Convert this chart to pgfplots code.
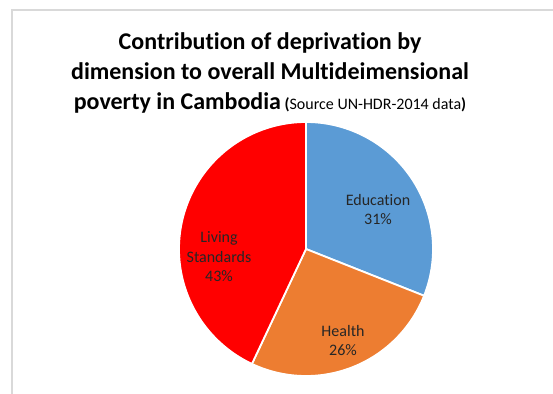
\documentclass[border=0pt]{standalone}
\usepackage{pgfplots}
\pgfplotsset{compat=1.18}
\usepackage{fontspec}
\setmainfont{Carlito}[Ligatures={NoCommon}]
\definecolor{edu}{HTML}{5B9BD5}
\definecolor{hea}{HTML}{ED7D31}
\definecolor{liv}{HTML}{FF0000}
\definecolor{frame}{HTML}{D9D9D9}
\definecolor{lab}{HTML}{262626}
% values (percent)
\def\vEdu{31}
\def\vHea{26}
\def\vLiv{43}
\def\cx{306}
\def\cy{145}
\def\rr{127}
\begin{document}
\begin{tikzpicture}
\useasboundingbox (0,0) rectangle (553bp,394bp);
\begin{axis}[
  at={(0,0)}, anchor=south west,
  scale only axis, width=553bp, height=394bp,
  xmin=0, xmax=553, ymin=0, ymax=394,
  axis lines=none, clip=false,
]
% frame
\draw[frame, line width=1.5bp] (axis cs:12,0) -- (axis cs:12,384) -- (axis cs:560,384);
% slices
\pgfmathsetmacro{\aA}{90}
\pgfmathsetmacro{\aB}{90-3.6*\vEdu}
\pgfmathsetmacro{\aC}{\aB-3.6*\vHea}
\pgfmathsetmacro{\aD}{\aC-3.6*\vLiv}
\addplot[fill=edu, draw=white, line width=1.8bp, domain=\aB:\aA, samples=80, line join=round]
  ({\cx+\rr*cos(x)},{\cy+\rr*sin(x)}) -- (axis cs:\cx,\cy) -- cycle;
\addplot[fill=hea, draw=white, line width=1.8bp, domain=\aC:\aB, samples=80, line join=round]
  ({\cx+\rr*cos(x)},{\cy+\rr*sin(x)}) -- (axis cs:\cx,\cy) -- cycle;
\addplot[fill=liv, draw=white, line width=1.8bp, domain=\aD:\aC, samples=100, line join=round]
  ({\cx+\rr*cos(x)},{\cy+\rr*sin(x)}) -- (axis cs:\cx,\cy) -- cycle;
% labels
\node[text=lab, font=\fontsize{16bp}{19bp}\selectfont, align=center] at (axis cs:378,184) {Education\\31\%};
\node[text=lab, font=\fontsize{16bp}{19bp}\selectfont, align=center] at (axis cs:343,53) {Health\\26\%};
\node[text=lab, font=\fontsize{16bp}{19.5bp}\selectfont, align=center] at (axis cs:219,137) {Living\\Standards\\43\%};
% title
\node[anchor=base, font=\bfseries\fontsize{24bp}{28bp}\selectfont] at (axis cs:270,344) {Contribution of deprivation by};
\node[anchor=base, font=\bfseries\fontsize{24bp}{28bp}\selectfont] at (axis cs:270,314) {dimension to overall Multideimensional};
\node[anchor=base, inner sep=0pt] at (axis cs:270,284) {\bfseries\fontsize{24bp}{28bp}\selectfont poverty in Cambodia\fontsize{16bp}{19bp}\selectfont\ (\mdseries Source UN-HDR-2014 data\bfseries)};
\end{axis}
\end{tikzpicture}
\end{document}
